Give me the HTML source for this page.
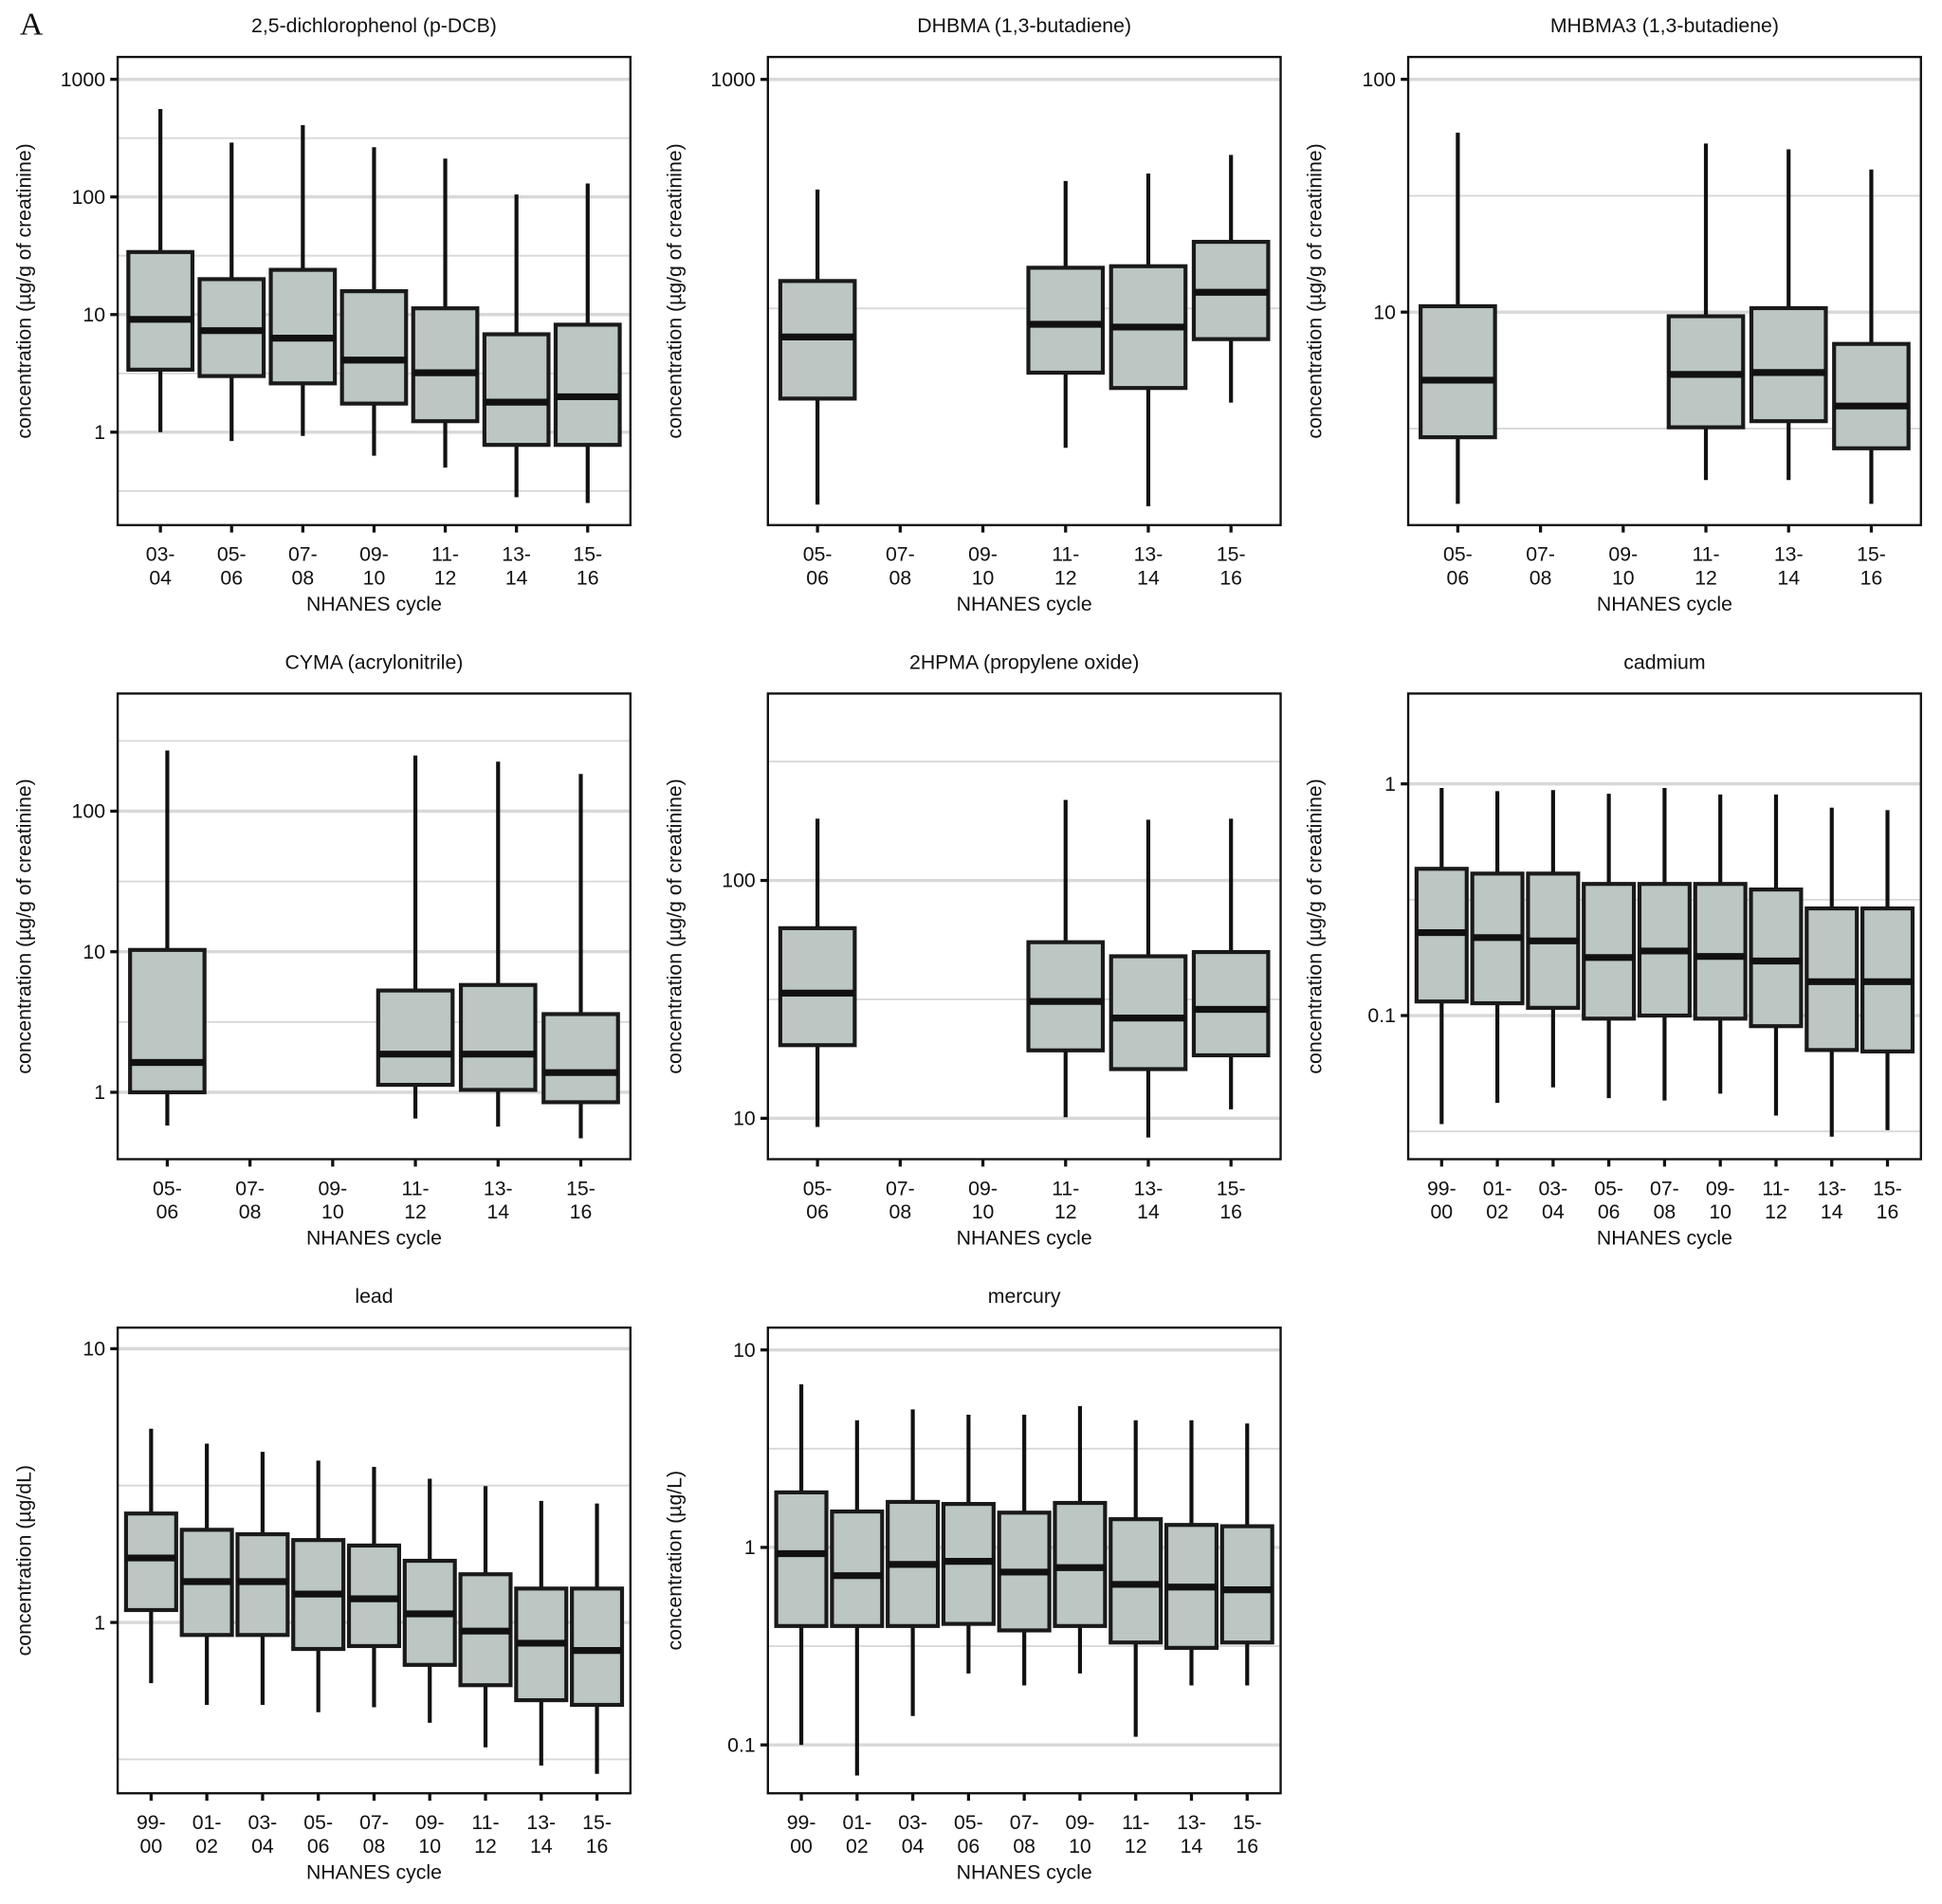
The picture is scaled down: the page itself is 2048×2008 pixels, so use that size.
<!DOCTYPE html>
<html><head><meta charset="utf-8"><style>
html,body{margin:0;padding:0;background:#fff}
svg{display:block}
text{font-family:"Liberation Sans","DejaVu Sans",sans-serif;fill:#111}
</style></head>
<body>
<svg id="fig" width="2048" height="2008" viewBox="0 0 1568 1537.4" xmlns="http://www.w3.org/2000/svg">
<rect width="1568" height="1538" fill="#fff"/>
<text x="16" y="28" style="font-family:'Liberation Serif',serif;font-size:26px">A</text>
</svg>
<script>
// ---- data ----
const cats7 = ["03-04","05-06","07-08","09-10","11-12","13-14","15-16"];
const cats6 = ["05-06","07-08","09-10","11-12","13-14","15-16"];
const cats9 = ["99-00","01-02","03-04","05-06","07-08","09-10","11-12","13-14","15-16"];

// each row: [lower whisker, q1, median, q3, upper whisker]; null = no data
const dcbValues = [[1.0,3.4,9.1,34,559],[0.84,3.0,7.3,20,290],[0.93,2.6,6.3,24,408],[0.63,1.75,4.1,15.8,265],[0.5,1.24,3.2,11.3,212],[0.28,0.78,1.8,6.8,105],[0.25,0.78,2.0,8.2,130]];
const dhbmaValues = [[118,201,274,363,575],null,null,[157,229,292,388,600],[117,212,288,391,623],[197,271,343,442,684]];
const mhbmaValues = [[1.5,2.9,5.1,10.6,59],null,null,[1.9,3.2,5.4,9.6,53],[1.9,3.4,5.5,10.4,50],[1.5,2.6,3.95,7.3,41]];
const cymaValues = [[0.58,1.0,1.63,10.3,270],null,null,[0.65,1.13,1.87,5.3,249],[0.57,1.04,1.87,5.8,225],[0.47,0.85,1.38,3.6,184]];
const hpmaValues = [[9.2,20.3,33.6,63,182],null,null,[10.1,19.3,31,55,218],[8.3,16.1,26.4,48,180],[10.9,18.4,28.7,50,182]];
const cadmiumValues = [[0.034,0.115,0.228,0.43,0.96],[0.042,0.113,0.217,0.41,0.93],[0.049,0.108,0.21,0.41,0.94],[0.044,0.097,0.178,0.37,0.906],[0.043,0.1,0.19,0.37,0.96],[0.046,0.097,0.18,0.37,0.9],[0.037,0.09,0.172,0.35,0.9],[0.03,0.071,0.14,0.29,0.79],[0.032,0.07,0.14,0.29,0.77]];
const leadValues = [[0.6,1.11,1.72,2.5,5.1],[0.5,0.9,1.41,2.18,4.5],[0.5,0.9,1.41,2.1,4.2],[0.47,0.8,1.27,2.0,3.9],[0.49,0.82,1.22,1.91,3.7],[0.43,0.7,1.075,1.68,3.35],[0.35,0.59,0.93,1.5,3.15],[0.3,0.52,0.84,1.33,2.78],[0.28,0.5,0.79,1.33,2.72]];
const mercuryValues = [[0.1,0.4,0.93,1.9,6.7],[0.07,0.4,0.72,1.52,4.4],[0.14,0.4,0.82,1.7,5.0],[0.23,0.41,0.85,1.66,4.7],[0.2,0.38,0.75,1.5,4.7],[0.23,0.4,0.79,1.68,5.2],[0.11,0.33,0.65,1.39,4.4],[0.2,0.31,0.63,1.3,4.4],[0.2,0.33,0.61,1.28,4.24]];

const ticksDcb = ["1","10","100","1000"];
const ticksDhbma = ["1000"];
const ticksMhbma = ["10","100"];
const ticksCyma = ["1","10","100"];
const ticksHpma = ["10","100"];
const ticksCadmium = ["0.1","1"];
const ticksLead = ["1","10"];
const ticksMercury = ["0.1","1","10"];

const NS="http://www.w3.org/2000/svg";
const svg=document.getElementById('fig');
function mk(tag,attrs,parent){const e=document.createElementNS(NS,tag);for(const k in attrs)e.setAttribute(k,attrs[k]);(parent||svg).appendChild(e);return e;}

const FS=16.3;
const CRE="concentration (µg/g of creatinine)";
const panels=[
 {t:"2,5-dichlorophenol (p-DCB)",x0:95,x1:509,y0:46,y1:424,lo:-0.79,hi:3.19,cats:cats7,vals:dcbValues,ticks:ticksDcb,yl:CRE,key:"dcb"},
 {t:"DHBMA (1,3-butadiene)",x0:620,x1:1034,y0:46,y1:424,lo:2.027,hi:3.049,cats:cats6,vals:dhbmaValues,ticks:ticksDhbma,yl:CRE,key:"dhbma"},
 {t:"MHBMA3 (1,3-butadiene)",x0:1137,x1:1551,y0:46,y1:424,lo:0.085,hi:2.096,cats:cats6,vals:mhbmaValues,ticks:ticksMhbma,yl:CRE,key:"mhbma3"},
 {t:"CYMA (acrylonitrile)",x0:95,x1:509,y0:560,y1:936,lo:-0.476,hi:2.837,cats:cats6,vals:cymaValues,ticks:ticksCyma,yl:CRE,key:"cyma"},
 {t:"2HPMA (propylene oxide)",x0:620,x1:1034,y0:560,y1:936,lo:0.828,hi:2.786,cats:cats6,vals:hpmaValues,ticks:ticksHpma,yl:CRE,key:"2hpma"},
 {t:"cadmium",x0:1137,x1:1551,y0:560,y1:936,lo:-1.62,hi:0.39,cats:cats9,vals:cadmiumValues,ticks:ticksCadmium,yl:CRE,key:"cadmium"},
 {t:"lead",x0:95,x1:509,y0:1072,y1:1448,lo:-0.624,hi:1.077,cats:cats9,vals:leadValues,ticks:ticksLead,yl:"concentration (µg/dL)",key:"lead"},
 {t:"mercury",x0:620,x1:1034,y0:1072,y1:1448,lo:-1.245,hi:1.113,cats:cats9,vals:mercuryValues,ticks:ticksMercury,yl:"concentration (µg/L)",key:"mercury"}
];

panels.forEach(p=>{
 const g=mk('g',{});
 
 
 const y=v=>p.y1-(Math.log10(v)-p.lo)/(p.hi-p.lo)*(p.y1-p.y0);
 const n=p.cats.length, step=(p.x1-p.x0)/(n-1+1.2);
 const x=i=>p.x0+step*(0.6+i);
 for(let h=Math.ceil(p.lo*2)/2;h<=p.hi;h+=0.5){
   const yy=p.y1-(h-p.lo)/(p.hi-p.lo)*(p.y1-p.y0);
   const major=Math.abs(h-Math.round(h))<1e-6;
   const gl=mk('line',{x1:p.x0,x2:p.x1,y1:yy,y2:yy,stroke:'#d8d8d8','stroke-width':major?2.6:1.4},g);
   
   
 }
 p.ticks.forEach(t=>{
   const yy=y(parseFloat(t));
   const tk=mk('line',{x1:p.x0-6,x2:p.x0,y1:yy,y2:yy,stroke:'#111','stroke-width':2.5},g);
   
   
   const tl=mk('text',{x:p.x0-10,y:yy+5.5,'text-anchor':'end','font-size':FS},g);
   tl.textContent=t;
   
   
 });
 p.vals.forEach((d,i)=>{
   const cx=x(i);
   const tk=mk('line',{x1:cx,x2:cx,y1:p.y1,y2:p.y1+6,stroke:'#111','stroke-width':2.5},g);
   
   
   const parts=p.cats[i].split('-');
   const tl=mk('text',{x:cx,y:p.y1+29,'text-anchor':'middle','font-size':FS},g);
   
   
   const s1=mk('tspan',{x:cx},tl); s1.textContent=parts[0]+'-';
   const s2=mk('tspan',{x:cx,dy:19},tl); s2.textContent=parts[1];
   if(!d) return;
   const bw=step*0.9;
   const wl=mk('line',{x1:cx,x2:cx,y1:y(d[0]),y2:y(d[4]),stroke:'#111','stroke-width':3.2},g);
   
   
   const bx=mk('rect',{x:cx-bw/2,y:y(d[3]),width:bw,height:y(d[1])-y(d[3]),fill:'#bcc6c3',stroke:'#1a1a1a','stroke-width':3.2},g);
   
   
   const md=mk('line',{x1:cx-bw/2,x2:cx+bw/2,y1:y(d[2]),y2:y(d[2]),stroke:'#111','stroke-width':5.5},g);
   
   
 });
 const fr=mk('rect',{x:p.x0,y:p.y0,width:p.x1-p.x0,height:p.y1-p.y0,fill:'none',stroke:'#111','stroke-width':1.8},g);
 
 
 const tt=mk('text',{x:(p.x0+p.x1)/2,y:p.y0-20,'text-anchor':'middle','font-size':FS},g);
 tt.textContent=p.t;
 
 
 const xl=mk('text',{x:(p.x0+p.x1)/2,y:p.y1+69,'text-anchor':'middle','font-size':FS},g);
 xl.textContent="NHANES cycle";
 
 
 const yc=(p.y0+p.y1)/2, yx=p.x0-70;
 const ylab=mk('text',{x:yx,y:yc,'text-anchor':'middle','font-size':FS,transform:`rotate(-90 ${yx} ${yc})`},g);
 ylab.textContent=p.yl;
 
 
});
</script>
</body></html>
